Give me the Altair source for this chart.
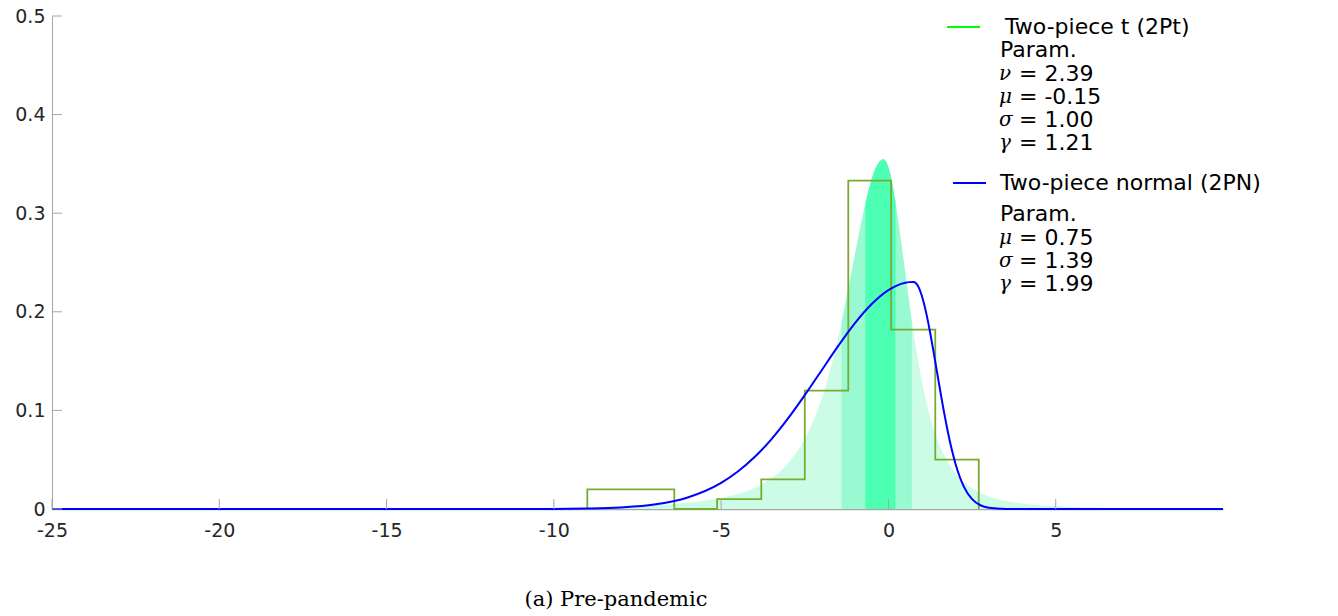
import altair as alt
import pandas as pd

# Two-piece t (2Pt) density: x grid and density values
t_x = [-25, -20, -15, -12, -10, -9, -8, -7, -6, -5, -4.5, -4, -3.5, -3, -2.5, -2,
       -1.75, -1.5, -1.4, -1.25, -1, -0.9, -0.75, -0.69, -0.5, -0.3, -0.15, -0.05,
       0, 0.1, 0.21, 0.25, 0.4, 0.5, 0.6, 0.7, 0.75, 1, 1.25, 1.5, 1.75, 2, 2.5,
       3, 3.5, 4, 5, 6, 8, 10]
t_y = [0.0001, 0.0001, 0.0003, 0.0007, 0.0012, 0.0017, 0.0025, 0.0039, 0.0063,
       0.0111, 0.0152, 0.0214, 0.0311, 0.0464, 0.0712, 0.1116, 0.1398, 0.1742,
       0.1896, 0.2144, 0.2580, 0.2755, 0.3003, 0.3096, 0.3345, 0.3508, 0.3546,
       0.3510, 0.3465, 0.3327, 0.3115, 0.3026, 0.2657, 0.2400, 0.2146, 0.1904,
       0.1790, 0.1296, 0.0931, 0.0671, 0.0490, 0.0363, 0.0210, 0.0128, 0.0083,
       0.0056, 0.0028, 0.0016, 0.0006, 0.0003]

# central probability bands of the 2Pt density
band_outer = [-1.40, 0.70]
band_inner = [-0.69, 0.21]

# Two-piece normal (2PN) density
n_x = [-25, -12, -10, -9, -8, -7, -6, -5, -4.5, -4, -3.5, -3, -2.5, -2, -1.5, -1,
       -0.5, 0, 0.25, 0.5, 0.625, 0.75, 0.875, 1, 1.125, 1.25, 1.375, 1.5, 1.625,
       1.75, 1.875, 2, 2.125, 2.25, 2.5, 2.75, 3, 3.5, 4, 10]
n_y = [0, 0, 0.0001, 0.0005, 0.0016, 0.0045, 0.0117, 0.0265, 0.0380, 0.0527,
       0.0707, 0.0919, 0.1155, 0.1405, 0.1654, 0.1885, 0.2079, 0.2220, 0.2266,
       0.2294, 0.2301, 0.2303, 0.2266, 0.2160, 0.1994, 0.1783, 0.1543, 0.1294,
       0.1051, 0.0827, 0.0629, 0.0465, 0.0332, 0.0230, 0.0100, 0.0038, 0.0013,
       0.0001, 0, 0]

# histogram of observed outcomes (density scale)
hist_edges = [-9.0, -6.40, -5.12, -3.80, -2.50, -1.20, 0.08, 1.40, 2.70]
hist_heights = [0.02, 0.0, 0.01, 0.03, 0.12, 0.333, 0.182, 0.05]

x_ticks = [-25, -20, -15, -10, -5, 0, 5]
y_ticks = [0, 0.1, 0.2, 0.3, 0.4, 0.5]

legend_t = ["Two-piece t (2Pt)", "Param."]
legend_t_params = [("ν", "= 2.39"), ("μ", "= -0.15"), ("σ", "= 1.00"), ("γ", "= 1.21")]
legend_n = ["Two-piece normal (2PN)", "Param."]
legend_n_params = [("μ", "= 0.75"), ("σ", "= 1.39"), ("γ", "= 1.99")]
caption = "(a) Pre-pandemic"

W, H = 1171, 493
LIGHT, MEDIUM, DARK = "#ccfce6", "#99fad2", "#4dffb3"
HIST_COLOR = "#77ac30"
BLUE = "#0000ff"
AXIS_GREY = "#a6a6a6"
SANS = "DejaVu Sans"
SERIF = "DejaVu Serif"
LEG_SIZE = 22

tdf = pd.DataFrame({"x": t_x, "y": t_y})
ndf = pd.DataFrame({"x": n_x, "y": n_y})

step_x = [hist_edges[0]] + hist_edges[:-1] + [hist_edges[-1]]
step_y = [0.0] + hist_heights + [0.0]
hdf = pd.DataFrame({"x": step_x, "y": step_y, "i": list(range(len(step_x)))})

xs = alt.Scale(domain=[-25, 10], nice=False, zero=False)
ys = alt.Scale(domain=[0, 0.5], nice=False)

x_axis = alt.Axis(values=x_ticks, title=None, grid=False, ticks=False, tickSize=0,
                  labelExpr="'' + datum.value", labelFont=SANS, labelFontSize=19,
                  labelColor="#262626", labelPadding=12, labelFlush=False,
                  labelOverlap=False, domainColor=AXIS_GREY, domainWidth=1.5)
y_axis = alt.Axis(values=y_ticks, title=None, grid=False, ticks=False, tickSize=0,
                  format="~g", labelFont=SANS, labelFontSize=19,
                  labelColor="#262626", labelPadding=7, labelFlush=False,
                  labelOverlap=False, domainColor=AXIS_GREY, domainWidth=1)

base_t = alt.Chart(tdf)

light = base_t.mark_area(color=LIGHT, interpolate="monotone").encode(
    x=alt.X("x:Q", scale=xs, axis=x_axis),
    y=alt.Y("y:Q", scale=ys, axis=y_axis),
)
medium = base_t.transform_filter(
    (alt.datum.x >= band_outer[0]) & (alt.datum.x <= band_outer[1])
).mark_area(color=MEDIUM, interpolate="monotone").encode(
    x=alt.X("x:Q", scale=xs), y=alt.Y("y:Q", scale=ys)
)
dark = base_t.transform_filter(
    (alt.datum.x >= band_inner[0]) & (alt.datum.x <= band_inner[1])
).mark_area(color=DARK, interpolate="monotone").encode(
    x=alt.X("x:Q", scale=xs), y=alt.Y("y:Q", scale=ys)
)

hist = alt.Chart(hdf).mark_line(color=HIST_COLOR, strokeWidth=1.8,
                                interpolate="step-after").encode(
    x=alt.X("x:Q", scale=xs), y=alt.Y("y:Q", scale=ys), order="i:Q"
)

normal = alt.Chart(ndf).mark_line(color=BLUE, strokeWidth=2,
                                  interpolate="monotone").encode(
    x=alt.X("x:Q", scale=xs), y=alt.Y("y:Q", scale=ys)
)

# inward tick marks
xtick_marks = alt.Chart(pd.DataFrame({"v": x_ticks})).mark_rule(
    color=AXIS_GREY, strokeWidth=1
).encode(x=alt.X("v:Q", scale=xs), y=alt.value(H), y2=alt.value(H - 10))
ytick_marks = alt.Chart(pd.DataFrame({"v": y_ticks})).mark_rule(
    color=AXIS_GREY, strokeWidth=1
).encode(y=alt.Y("v:Q", scale=ys), x=alt.value(0), x2=alt.value(10))

dummy = pd.DataFrame({"k": [0]})


def label(text, x, y, font=SANS, size=LEG_SIZE, style="normal", align="left"):
    return alt.Chart(dummy).mark_text(
        text=text, font=font, fontSize=size, fontStyle=style, align=align,
        baseline="middle", color="#000000"
    ).encode(x=alt.value(x), y=alt.value(y))


def key_line(color, x1, x2, y):
    return alt.Chart(dummy).mark_rule(color=color, strokeWidth=2).encode(
        x=alt.value(x1), x2=alt.value(x2), y=alt.value(y)
    )


legend_layers = [
    key_line("#00ff00", 895, 928, 11),
    label(legend_t[0], 953, 11),
    label(legend_t[1], 948, 34),
]
for k, (g, v) in enumerate(legend_t_params):
    yy = 58 + k * 23
    legend_layers.append(label(g, 947, yy, font=SERIF, style="italic", size=20))
    legend_layers.append(label(v, 967, yy))

legend_layers += [
    key_line(BLUE, 901, 934, 167),
    label(legend_n[0], 948, 167),
    label(legend_n[1], 948, 198),
]
for k, (g, v) in enumerate(legend_n_params):
    yy = 222 + k * 23
    legend_layers.append(label(g, 947, yy, font=SERIF, style="italic", size=20))
    legend_layers.append(label(v, 967, yy))

cap = label(caption, 564, 584, font=SERIF, size=21, align="center")

chart = alt.layer(
    light, medium, dark, hist, normal, xtick_marks, ytick_marks,
    *legend_layers, cap
).properties(
    width=W, height=H,
    autosize=alt.AutoSizeParams(type="none"),
    padding={"left": 52, "top": 16, "right": 1338 - 52 - W, "bottom": 616 - 16 - H},
    background="#ffffff",
).configure_view(stroke=None)

chart.save("out.html", embed_options={"renderer": "svg", "actions": False})
